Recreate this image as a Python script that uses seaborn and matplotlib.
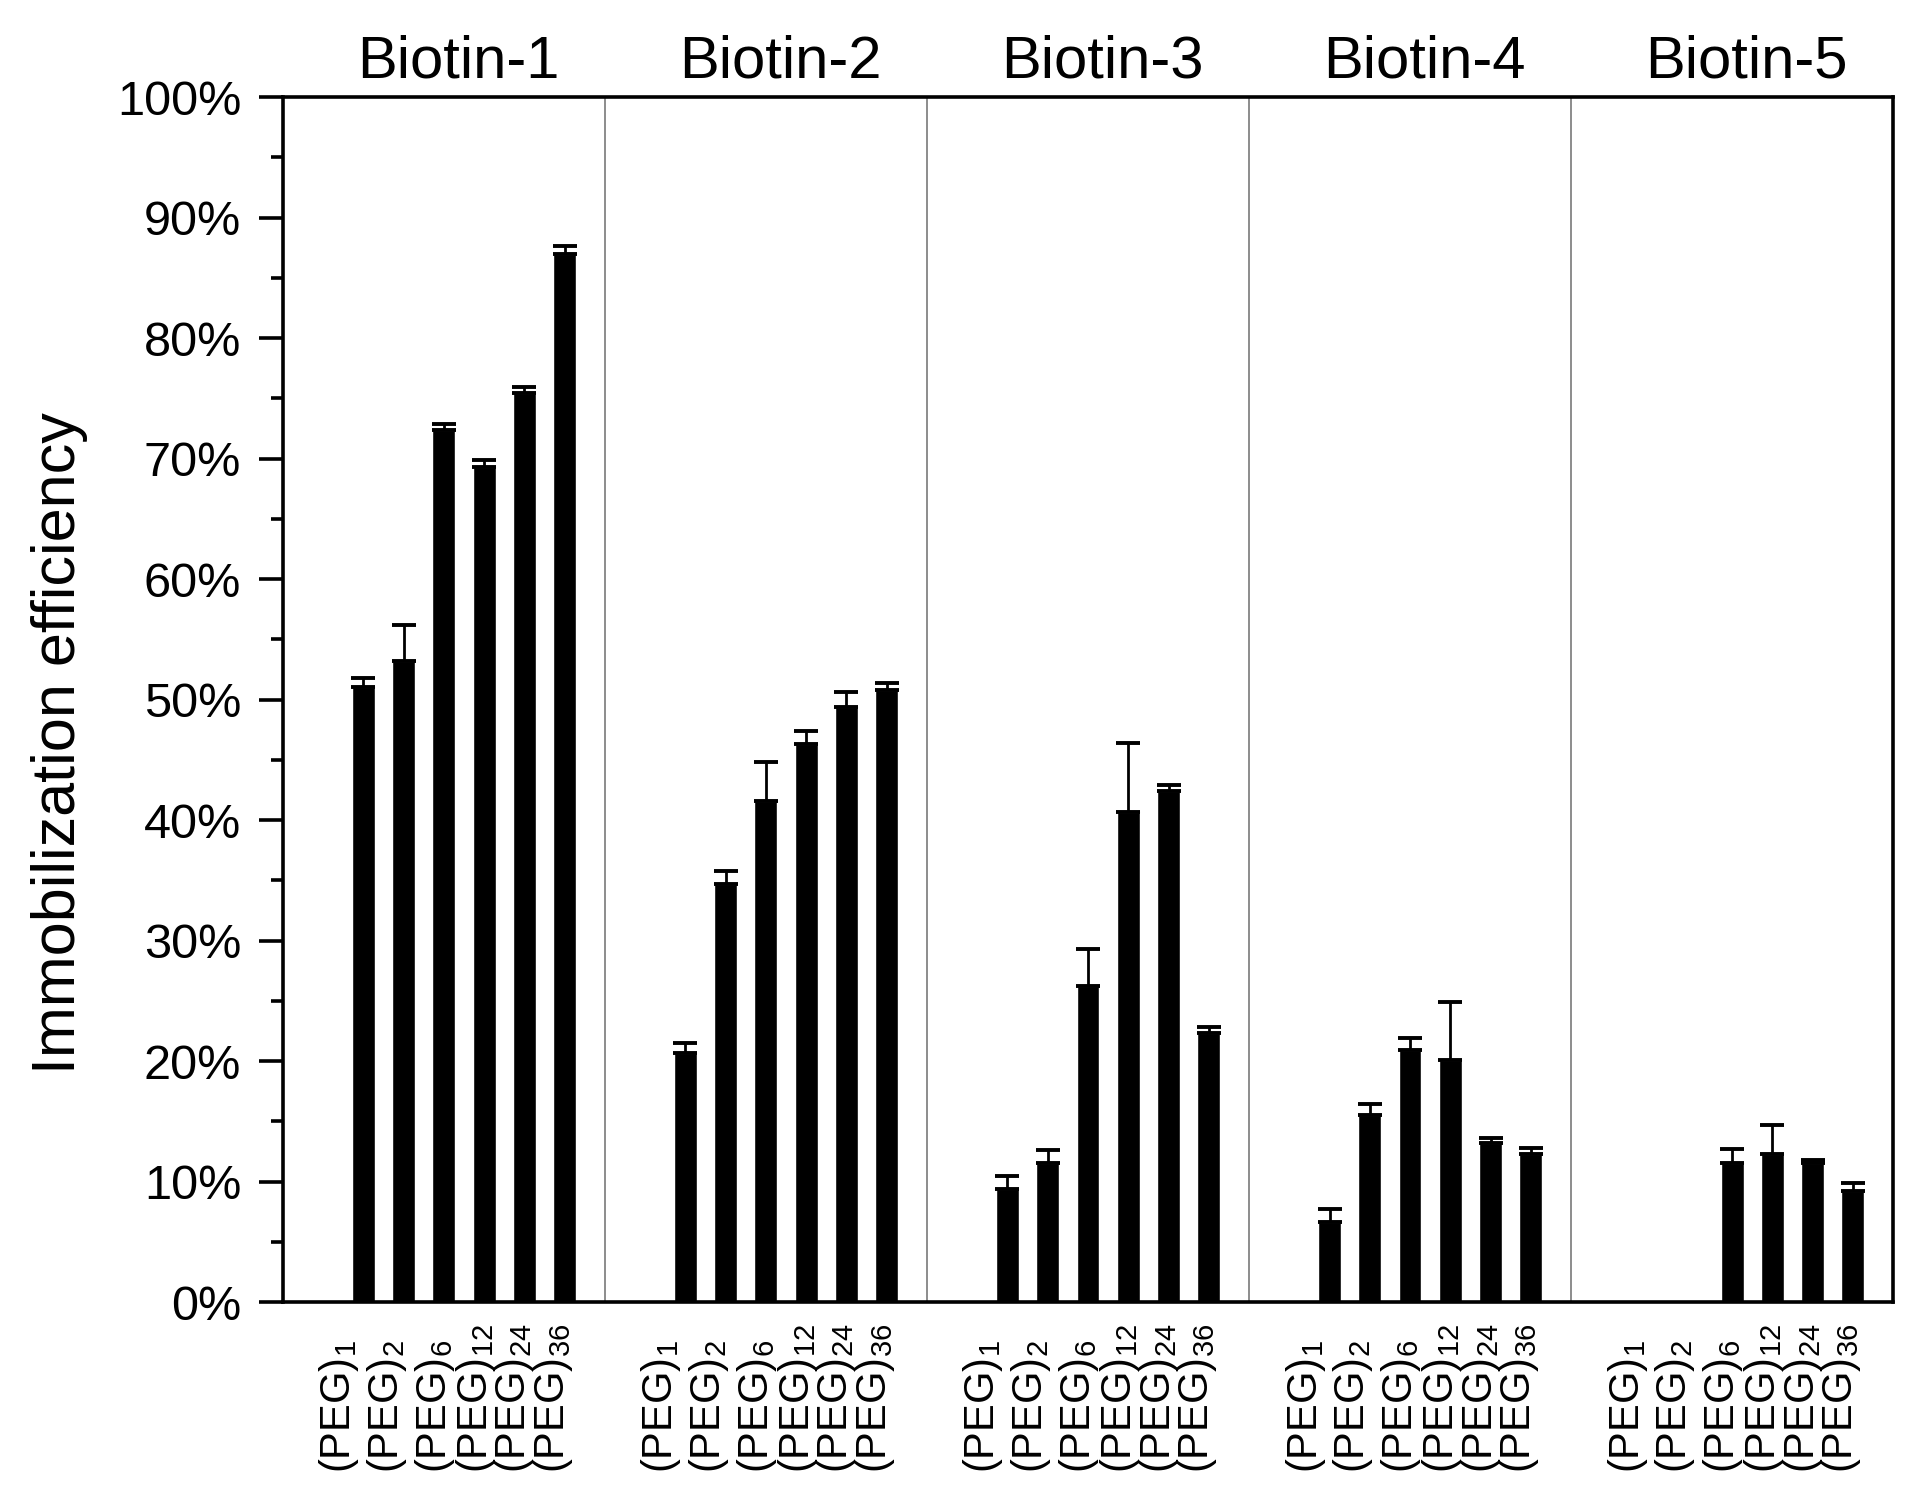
import numpy as np
import pandas as pd
import matplotlib
matplotlib.use('Agg')
import matplotlib.pyplot as plt
import matplotlib.transforms as mtransforms
from matplotlib.ticker import MultipleLocator, PercentFormatter
import seaborn as sns

# data (percent)
groups = ['Biotin-1', 'Biotin-2', 'Biotin-3', 'Biotin-4', 'Biotin-5']
peg_n = ['1', '2', '6', '12', '24', '36']

biotin1 = [51.0, 53.2, 72.4, 69.3, 75.4, 87.0]
biotin2 = [20.7, 34.7, 41.6, 46.3, 49.4, 50.8]
biotin3 = [9.4, 11.5, 26.2, 40.7, 42.4, 22.3]
biotin4 = [6.6, 15.5, 20.9, 20.1, 13.2, 12.3]
biotin5 = [np.nan, np.nan, 11.5, 12.3, 11.5, 9.2]

err1 = [0.8, 3.0, 0.5, 0.6, 0.5, 0.6]
err2 = [0.8, 1.1, 3.2, 1.1, 1.2, 0.6]
err3 = [1.1, 1.1, 3.1, 5.7, 0.5, 0.5]
err4 = [1.1, 0.9, 1.0, 4.8, 0.4, 0.5]
err5 = [np.nan, np.nan, 1.2, 2.4, 0.3, 0.7]

values = [biotin1, biotin2, biotin3, biotin4, biotin5]
errors = [err1, err2, err3, err4, err5]

sns.set_style('ticks')
plt.rcParams['font.family'] = ['Liberation Sans', 'DejaVu Sans']
plt.rcParams['mathtext.fontset'] = 'custom'
plt.rcParams['mathtext.rm'] = 'Liberation Sans'
plt.rcParams['mathtext.default'] = 'regular'
for key in ['text.color', 'axes.labelcolor', 'xtick.color', 'ytick.color',
            'axes.edgecolor']:
    plt.rcParams[key] = 'black'

# 8 slots per group: two empty slots, then the six PEG lengths
rows = []
for g, name in enumerate(groups):
    for k, n in enumerate(peg_n):
        rows.append({'group': name, 'peg': n, 'slot': k,
                     'pos': 8 * g + 2 + k,
                     'value': values[g][k], 'err': errors[g][k]})
df = pd.DataFrame(rows)
df_bars = df.dropna()

fig = plt.figure(figsize=(19.26, 15.11), dpi=100)
ax = fig.add_axes([0.1469, 0.1383, 0.836, 0.7975])

sns.barplot(data=df_bars, x='pos', y='value', native_scale=True, width=0.57,
            color='black', saturation=1, errorbar=None, ax=ax)
ax.errorbar(df_bars['pos'], df_bars['value'],
            yerr=[np.zeros(len(df_bars)), df_bars['err']],
            fmt='none', ecolor='black', elinewidth=2.0, capsize=8.7, capthick=2.8)

for g in range(1, len(groups)):
    ax.axvline(8 * g, color='#8c8c8c', lw=1.4, zorder=0)

ax.set_xlim(0, 40)
ax.set_ylim(0, 100)
ax.yaxis.set_major_locator(MultipleLocator(10))
ax.yaxis.set_minor_locator(MultipleLocator(5))
ax.yaxis.set_major_formatter(PercentFormatter(xmax=100, decimals=0))
ax.set_xticks([])
ax.set_xlabel('')

for s in ax.spines.values():
    s.set_visible(True)
    s.set_linewidth(2.6)
    s.set_color('black')

ax.tick_params(axis='y', which='major', direction='out', length=17, width=2.6,
               labelsize=35, pad=13)
ax.tick_params(axis='y', which='minor', direction='out', length=8.6, width=2.6)
ax.tick_params(axis='x', which='both', length=0)

ax.set_ylabel('Immobilization efficiency', fontsize=44)
ax.yaxis.set_label_coords(-0.121, 0.464)

# group titles above the frame
title_tr = mtransforms.offset_copy(
    mtransforms.blended_transform_factory(ax.transData, ax.transAxes),
    fig=fig, x=-6, y=20, units='dots')
for g, name in enumerate(groups):
    ax.text(8 * g + 4.5, 1.0, name, transform=title_tr, ha='center',
            va='baseline', fontsize=43)

# rotated (PEG)n labels under every slot
nudge = [-13, -6, 2, 3, 1, -1]
lab_base = mtransforms.blended_transform_factory(ax.transData, fig.transFigure)
for _, r in df.iterrows():
    tr = mtransforms.offset_copy(lab_base, fig=fig, x=nudge[r['slot']], y=0,
                                 units='dots')
    ax.text(r['pos'], 0.0251, '(PEG)$_{%s}$' % r['peg'], transform=tr,
            rotation=90, rotation_mode='anchor', ha='left', va='baseline',
            fontsize=30, clip_on=False)

fig.savefig('out.png', dpi=100, facecolor='white')
